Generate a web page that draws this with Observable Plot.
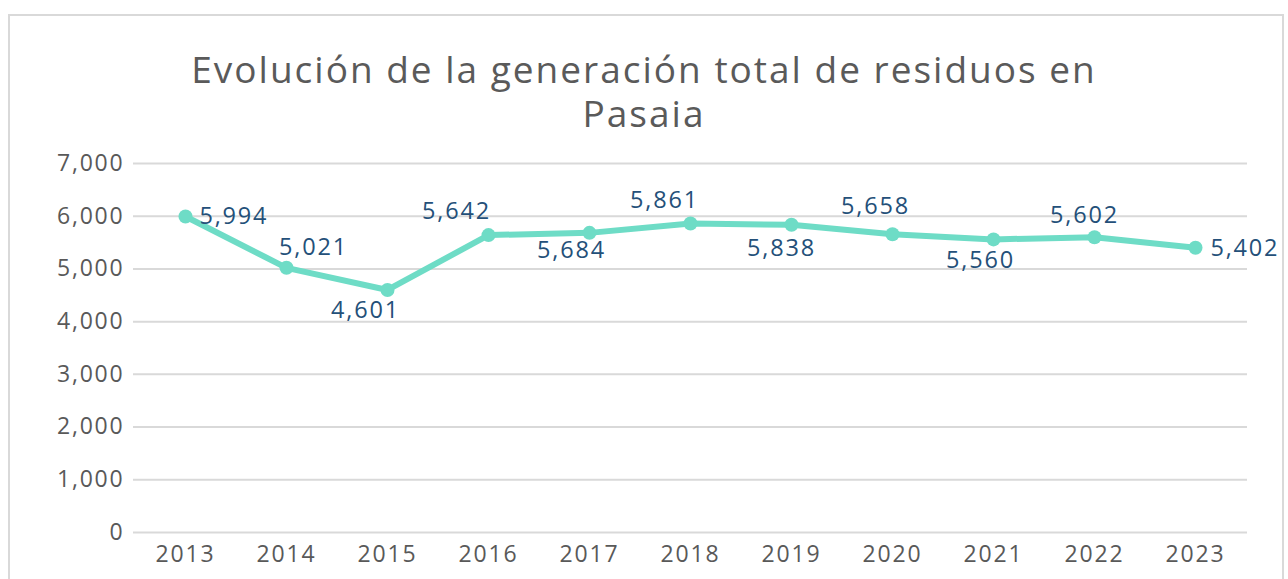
<!DOCTYPE html>
<html><head><meta charset="utf-8">
<script src="https://cdn.jsdelivr.net/npm/d3@7"></script>
<script src="https://cdn.jsdelivr.net/npm/@observablehq/plot@0.6"></script>
<style>
body{margin:0;background:#fff;font-family:"Open Sans",sans-serif;overflow:hidden;width:1288px;height:579px;position:relative}
#frame{position:absolute;left:8px;top:14px;width:1276px;height:600px;border:2px solid #d9d9d9;box-sizing:border-box}
.title{position:absolute;left:0;width:1288px;height:44px;text-align:center;font-size:37px;letter-spacing:2px;color:#5a5a5a;line-height:44px;white-space:nowrap}
#t1{top:47px}
#t2{top:91px}
#chart{position:absolute;left:0;top:130px}
</style></head><body>
<div id="frame"></div>
<div class="title" id="t1">Evolución de la generación total de residuos en</div>
<div class="title" id="t2">Pasaia</div>
<div id="chart"></div>
<script>
const years = ["2013","2014","2015","2016","2017","2018","2019","2020","2021","2022","2023"];
const values = [5994, 5021, 4601, 5642, 5684, 5861, 5838, 5658, 5560, 5602, 5402];
const yTicks = [0, 1000, 2000, 3000, 4000, 5000, 6000, 7000];
// label offsets (px) relative to each point, as placed in the original
const labelDx = [14, 27, -22, -32, -18, -26, -10, -17, -13, -10, 15];
const labelDy = [0, -20, 21, -24, 18, -23, 24, -28, 21, -22, 1];
const labelAnchor = ["start","middle","middle","middle","middle","middle","middle","middle","middle","middle","start"];

const data = years.map((y, i) => ({year: y, value: values[i]}));
const fmt = d3.format(",");

const labelMarks = data.map((d, i) => Plot.text([d], {
  x: "year", y: "value", text: d => fmt(d.value),
  dx: labelDx[i], dy: labelDy[i], textAnchor: labelAnchor[i],
  fill: "#245079", fontSize: 23.5
}));

const chart = Plot.plot({
  width: 1288,
  height: 449,
  marginTop: 33,
  marginBottom: 47,
  marginLeft: 133,
  marginRight: 41,
  style: {fontFamily: "'Open Sans', sans-serif", fontSize: "23px", letterSpacing: "1.8px", color: "#595959", background: "transparent", overflow: "visible"},
  x: {type: "point", domain: years, padding: 0.5, label: null, tickSize: 0, tickPadding: 13},
  y: {domain: [0, 7000], ticks: yTicks, tickFormat: fmt, label: null, tickSize: 0, tickPadding: 9},
  marks: [
    Plot.ruleY(yTicks, {stroke: "#d9d9d9", strokeWidth: 2}),
    Plot.line(data, {x: "year", y: "value", stroke: "#6edcc6", strokeWidth: 6, strokeLinejoin: "round", strokeLinecap: "round"}),
    Plot.dot(data, {x: "year", y: "value", r: 7, fill: "#6edcc6", stroke: "none"}),
    ...labelMarks
  ]
});
document.getElementById("chart").appendChild(chart);
</script>
</body></html>
